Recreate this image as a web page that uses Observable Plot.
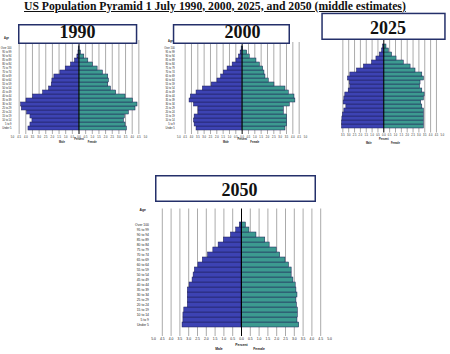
<!DOCTYPE html>
<html><head><meta charset="utf-8">
<script src="https://cdn.jsdelivr.net/npm/d3@7"></script>
<script src="https://cdn.jsdelivr.net/npm/@observablehq/plot@0.6"></script>
<style>
body{margin:0;background:#fff}
#root{position:relative;width:450px;height:354px;overflow:hidden;background:#fff}
#root svg{max-width:none !important}
#title{position:absolute;left:24px;top:0.5px;font-family:"Liberation Serif","Times New Roman",serif;font-weight:bold;font-size:11.7px;line-height:1;text-decoration:underline;white-space:nowrap;color:#111}
</style></head><body><div id="root"><div id="title">US Population Pyramid 1 July 1990, 2000, 2025, and 2050 (middle estimates)</div></div>
<script>
const ages = ["Under 5","5 to 9","10 to 14","15 to 19","20 to 24","25 to 29","30 to 34","35 to 39","40 to 44","45 to 49","50 to 54","55 to 59","60 to 64","65 to 69","70 to 74","75 to 79","80 to 84","85 to 89","90 to 94","95 to 99","Over 100"];
const years = ["1990","2000","2025","2050"];
const sexes = ["Male","Female"];
const xTicks = [-5,-4.5,-4,-3.5,-3,-2.5,-2,-1.5,-1,-0.5,0,0.5,1,1.5,2,2.5,3,3.5,4,4.5,5];
const xLabel = "Percent";
const yLabel = "Age";

// percent of total population, Under 5 .. Over 100
const male1990   = [3.8,3.65,3.5,3.65,3.9,4.3,4.35,3.95,3.45,2.7,2.25,2.05,2.0,1.85,1.4,1.0,0.6,0.3,0.12,0.04,0.02];
const female1990 = [3.6,3.5,3.38,3.45,3.75,4.25,4.4,4.05,3.5,2.8,2.4,2.2,2.25,2.2,1.8,1.4,1.05,0.7,0.4,0.15,0.04];
const male2000   = [3.6,3.75,3.8,3.75,3.45,3.45,3.8,4.15,4.05,3.6,3.1,2.4,1.95,1.65,1.45,1.15,0.75,0.45,0.25,0.12,0.04];
const female2000 = [3.42,3.55,3.55,3.55,3.29,3.29,3.76,4.2,4.13,3.68,3.42,2.55,2.1,1.84,1.76,1.66,1.4,1.13,0.6,0.4,0.08];
const male2025   = [3.57,3.57,3.54,3.49,3.37,3.2,3.43,3.37,3.29,3.0,2.86,2.9,3.06,2.86,2.29,1.7,1.0,0.63,0.34,0.14,0.06];
const female2025 = [3.43,3.43,3.43,3.43,3.43,3.29,3.2,3.43,3.49,3.29,3.09,3.14,3.43,3.29,2.71,2.29,1.71,1.09,0.71,0.43,0.23];
const male2050   = [3.35,3.3,3.3,3.25,3.05,3.05,3.05,3.05,2.95,2.78,2.72,2.65,2.45,2.2,1.9,1.6,1.3,1.0,0.6,0.3,0.1];
const female2050 = [3.28,3.18,3.2,3.2,3.15,3.12,3.18,3.12,3.08,2.95,2.85,2.85,2.7,2.5,2.2,2.0,1.6,1.35,0.85,0.45,0.25];

const MALE = "#3d43b3", FEMALE = "#3c9a90";
const root = document.getElementById("root");

const panels = [
  {male:male1990,female:female1990,x0:12,x1:145,frameTop:40,frameBot:134,yTop:42,yBot:133,fs:2.6,tp:1.2,yp:1,age:[-6,-3.3],pct:5,sex:8.7,clip:null,minTick:-5,ageAxis:true},
  {male:male2000,female:female2000,x0:178.3,x1:305,frameTop:42,frameBot:134,yTop:43.3,yBot:133,fs:2.6,tp:1.2,yp:4,age:[-8.3,-2.5],pct:5,sex:8.5,clip:null,minTick:-5,ageAxis:true},
  {male:male2025,female:female2025,x0:324.8,x1:441.8,frameTop:38,frameBot:132.5,yTop:40.5,yBot:131.8,fs:2.6,tp:1.2,yp:2,age:[-8,-2],pct:6.8,sex:10.8,clip:339,minTick:-3.5,ageAxis:false},
  {male:male2050,female:female2050,x0:153,x1:329,frameTop:208.5,frameBot:336,yTop:212.5,yBot:335.5,fs:3.4,tp:1.3,yp:4.5,age:[-10.7,-0.5],pct:9.7,sex:13,clip:null,minTick:-5,ageAxis:true}
];

const gridTicks = xTicks.filter(t => t !== 0 && Math.abs(t) < 5);

panels.forEach(p => {
  const rows = [];
  ages.forEach((a, i) => {
    rows.push({age: a, sex: sexes[0], v: -p.male[i]});
    rows.push({age: a, sex: sexes[1], v: p.female[i]});
  });
  const sexLab = [{t: sexes[0], x: -1.28}, {t: sexes[1], x: 1.0}];
  const marks = [
    Plot.gridX(gridTicks, {stroke: "#ababab", strokeOpacity: 1, strokeWidth: 1}),
    Plot.barX(rows, {x: "v", y: "age", fill: "sex", stroke: "#1e1e55", strokeWidth: 0.5}),
    Plot.ruleX([0], {stroke: "#000", strokeWidth: 1}),
    Plot.axisX(xTicks.filter(t => t >= p.minTick), {anchor: "bottom", tickSize: 0, tickPadding: p.tp, fontSize: p.fs, tickFormat: d => Math.abs(d).toFixed(1), label: null}),
    Plot.text([xLabel], {x: () => 0, frameAnchor: "bottom", dy: p.pct, fontSize: p.fs, fontWeight: "bold"}),
    Plot.text(sexLab, {x: "x", text: "t", frameAnchor: "bottom", dy: p.sex, fontSize: p.fs, fontWeight: "bold"})
  ];
  if (p.ageAxis) {
    marks.push(Plot.axisY(ages, {anchor: "left", tickSize: 0, tickPadding: p.yp, fontSize: p.fs, label: null}));
    marks.push(Plot.text([yLabel], {frameAnchor: "top-left", textAnchor: "middle", dx: p.age[0], dy: p.age[1], fontSize: p.fs, fontWeight: "bold"}));
  } else {
    marks.push(Plot.axisY({anchor: "left", ticks: [], label: null}));
  }
  const svg = Plot.plot({
    width: 450, height: 354,
    marginLeft: p.x0, marginRight: 450 - p.x1, marginTop: p.frameTop, marginBottom: 354 - p.frameBot,
    style: {background: "transparent", fontFamily: "Liberation Sans, Arial, sans-serif", color: "#222", maxWidth: "none"},
    x: {domain: [-5, 5]},
    y: {domain: ages.slice().reverse(), range: [p.yTop, p.yBot], padding: 0},
    color: {domain: sexes, range: [MALE, FEMALE]},
    marks
  });
  svg.style.position = "absolute"; svg.style.top = "0"; svg.style.maxWidth = "none";
  svg.style.width = "450px"; svg.style.height = "354px";
  if (p.clip != null) {
    const wrap = document.createElement("div");
    wrap.style.cssText = `position:absolute;top:0;left:${p.clip}px;width:${450 - p.clip}px;height:354px;overflow:hidden`;
    svg.style.left = `${-p.clip}px`;
    wrap.appendChild(svg); root.appendChild(wrap);
  } else {
    svg.style.left = "0";
    root.appendChild(svg);
  }
});

// year title boxes
const boxes = [
  {x1:18,x2:137.3,y1:24,y2:44,cx:77.5,base:38.3},
  {x1:172.8,x2:290,y1:24,y2:44,cx:242.5,base:38.3},
  {x1:321.3,x2:445.7,y1:12.7,y2:40,cx:388,base:33.6},
  {x1:155,x2:316,y1:175,y2:202,cx:239.5,base:196}
];
const over = d3.select(root).append("svg").attr("width",450).attr("height",354)
  .style("position","absolute").style("left","0").style("top","0");
boxes.forEach((b, i) => {
  over.append("rect").attr("x", b.x1 + 0.75).attr("y", b.y1 + 0.75)
    .attr("width", b.x2 - b.x1 - 1.5).attr("height", b.y2 - b.y1 - 1.5)
    .attr("fill", "#fff").attr("stroke", "#24306a").attr("stroke-width", 1.5);
  over.append("text").attr("x", b.cx).attr("y", b.base).attr("text-anchor", "middle")
    .attr("font-family", "Liberation Serif, Times New Roman, serif").attr("font-weight", "bold")
    .attr("font-size", 18).attr("fill", "#111").text(years[i]);
});
root.appendChild(document.getElementById("title"));
</script>
</body></html>
